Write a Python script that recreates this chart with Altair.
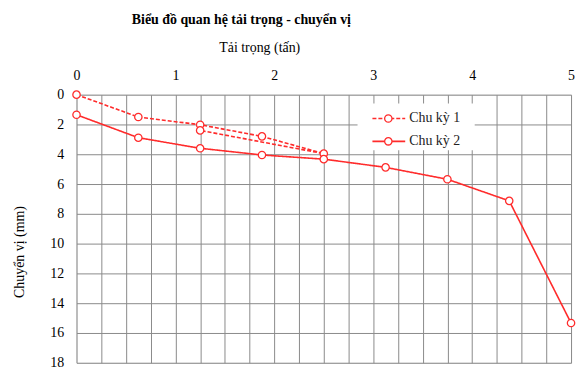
import altair as alt
import pandas as pd

# Data
cycle1_load = [0, 0.625, 1.25, 1.875, 2.5, 1.25]
cycle1_disp = [0, 1.5, 2.02, 2.8, 3.96, 2.4]
cycle2_load = [0, 0.625, 1.25, 1.875, 2.5, 3.125, 3.75, 4.375, 5.0]
cycle2_disp = [1.35, 2.89, 3.6, 4.05, 4.33, 4.88, 5.68, 7.13, 15.33]
series_names = ["Chu kỳ 1", "Chu kỳ 2"]
x_ticks = [i * 0.25 for i in range(21)]
y_ticks = list(range(0, 19, 2))

RED = "#ff2b2b"
FONT = "Liberation Serif, Times New Roman, serif"
GRID = "#8a8a8a"

rows = []
for i, (x, y) in enumerate(zip(cycle1_load, cycle1_disp)):
    rows.append({"series": series_names[0], "load": x, "disp": y, "ord": i})
for i, (x, y) in enumerate(zip(cycle2_load, cycle2_disp)):
    rows.append({"series": series_names[1], "load": x, "disp": y, "ord": i})
df = pd.DataFrame(rows)

xscale = alt.Scale(domain=[0, 5], nice=False, zero=False)
yscale = alt.Scale(domain=[0, 18], reverse=True, nice=False)

xaxis = alt.Axis(
    orient="top", values=x_ticks, tickCount=21, title="Tải trọng (tấn)",
    labelExpr="datum.value % 1 == 0 ? format(datum.value, 'd') : ''",
    labelOverlap=False, labelFlush=False,
    ticks=False, domain=False, grid=True, gridColor=GRID, gridOpacity=1,
    labelPadding=12, labelFont=FONT, labelFontSize=14, labelColor="#000",
    titleFont=FONT, titleFontSize=14, titleFontWeight="normal", titleColor="#000",
    titleX=184, titleY=-47, titleBaseline="middle", titleAlign="center",
)
yaxis = alt.Axis(
    values=y_ticks, tickCount=10, title="Chuyển vị (mm)", ticks=False, domain=False,
    labelOverlap=False, labelFlush=False,
    grid=True, gridColor=GRID, gridOpacity=1,
    labelPadding=13, labelFont=FONT, labelFontSize=14, labelColor="#000",
    titleFont=FONT, titleFontSize=14, titleFontWeight="normal", titleColor="#000",
    titleX=-57, titleY=158, titleAngle=270, titleBaseline="middle", titleAlign="center",
)

base = alt.Chart(df).encode(
    x=alt.X("load:Q", scale=xscale, axis=xaxis),
    y=alt.Y("disp:Q", scale=yscale, axis=yaxis),
)

lines = base.mark_line(color=RED, strokeWidth=1.6).encode(
    detail="series:N",
    order="ord:Q",
    strokeDash=alt.StrokeDash(
        "series:N",
        scale=alt.Scale(domain=series_names, range=[[4, 2], [1, 0]]),
        legend=None,
    ),
)
points = base.mark_point(
    shape="circle", filled=True, fill="white", stroke=RED, strokeWidth=1.3, size=55, opacity=1
)

# Manual legend
leg_df = pd.DataFrame({"series": series_names, "row": [0, 1]})
leg_box = alt.Chart(pd.DataFrame({"a": [0]})).mark_rect(fill="white").encode(
    x=alt.value(283), x2=alt.value(401), y=alt.value(9), y2=alt.value(56)
)
leg1_line = alt.Chart(leg_df[leg_df.row == 0]).mark_rule(color=RED, strokeWidth=1.6, strokeDash=[4, 2]).encode(
    x=alt.value(298), x2=alt.value(331), y=alt.value(24)
)
leg2_line = alt.Chart(leg_df[leg_df.row == 1]).mark_rule(color=RED, strokeWidth=1.6).encode(
    x=alt.value(298), x2=alt.value(331), y=alt.value(47)
)
leg1_pt = alt.Chart(leg_df[leg_df.row == 0]).mark_point(
    shape="circle", filled=True, fill="white", stroke=RED, strokeWidth=1.3, size=55, opacity=1
).encode(x=alt.value(314), y=alt.value(24))
leg2_pt = alt.Chart(leg_df[leg_df.row == 1]).mark_point(
    shape="circle", filled=True, fill="white", stroke=RED, strokeWidth=1.3, size=55, opacity=1
).encode(x=alt.value(314), y=alt.value(47))
leg1_txt = alt.Chart(leg_df[leg_df.row == 0]).mark_text(
    align="left", baseline="middle", font=FONT, fontSize=14, color="#222"
).encode(x=alt.value(335), y=alt.value(24), text="series:N")
leg2_txt = alt.Chart(leg_df[leg_df.row == 1]).mark_text(
    align="left", baseline="middle", font=FONT, fontSize=14, color="#222"
).encode(x=alt.value(335), y=alt.value(47), text="series:N")

chart = alt.layer(
    lines, points, leg_box, leg1_line, leg2_line, leg1_pt, leg2_pt, leg1_txt, leg2_txt
).properties(
    width=498, height=270,
    title=alt.TitleParams(
        "Biểu đồ quan hệ tải trọng - chuyển vị", font=FONT, fontSize=14,
        fontWeight="bold", color="#000", anchor="middle", dx=-83, offset=14,
    ),
    autosize=alt.AutoSizeParams(type="none"),
    padding={"left": 69, "top": 86, "right": 5, "bottom": 5},
).configure_view(stroke=GRID, strokeWidth=1).configure(background="white")

chart.save("out.html", embed_options={"renderer": "svg", "actions": False})
